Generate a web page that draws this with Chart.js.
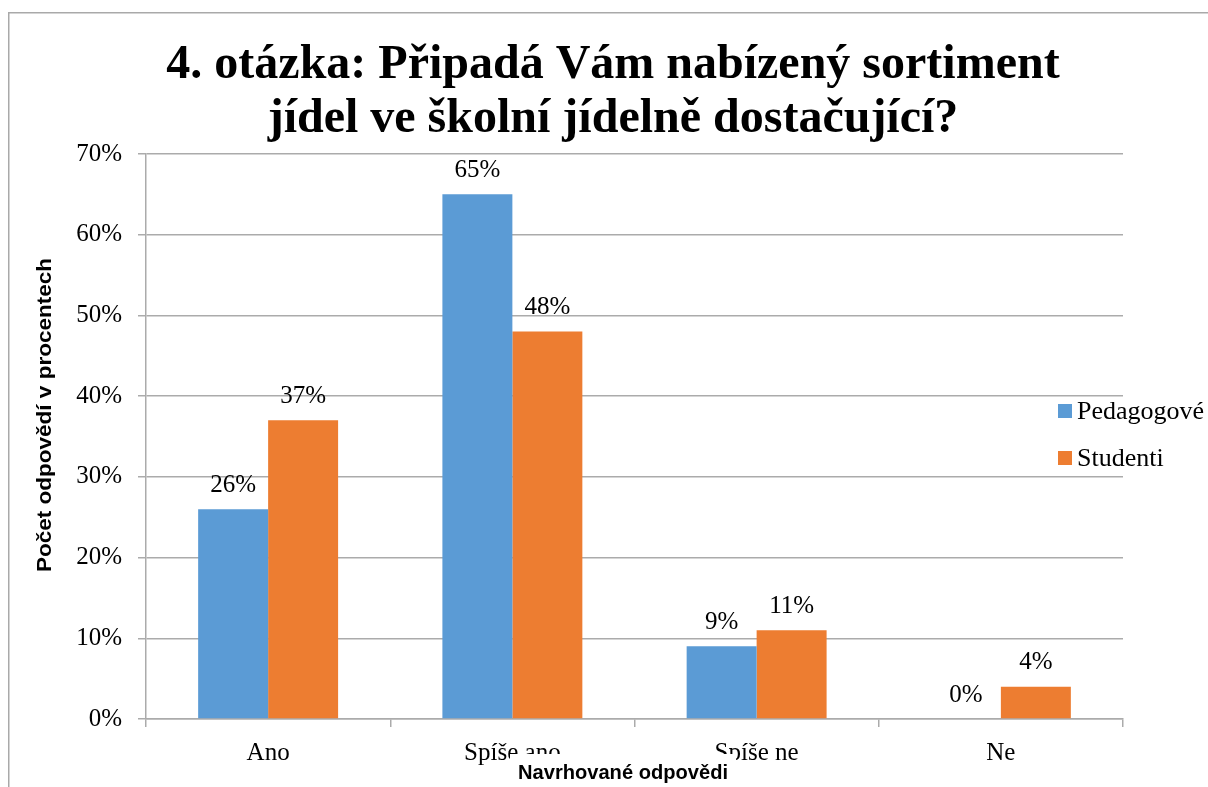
<!DOCTYPE html>
<html>
<head>
<meta charset="utf-8">
<script src="https://cdn.jsdelivr.net/npm/chart.js@4"></script>
<style>
  html, body { margin: 0; padding: 0; background: #fff; }
  #c { display: block; }
</style>
</head>
<body>
<canvas id="c" width="1208" height="787"></canvas>
<script>
const categories = ["Ano", "Spíše ano", "Spíše ne", "Ne"];
const pedagogove = [26, 65, 9, 0];
const studenti = [37, 48, 11, 4];
const seriesNames = ["Pedagogové", "Studenti"];
const titleLines = ["4. otázka: Připadá Vám nabízený sortiment", "jídel ve školní jídelně dostačující?"];
const yAxisTitle = "Počet odpovědí v procentech";
const xAxisTitle = "Navrhované odpovědi";

const BLUE = "#5B9BD5", ORANGE = "#ED7D31", GRID = "#ABABAB";
const SERIF = "'Liberation Serif', 'Times New Roman', serif";
const SANS = "'Liberation Sans', Arial, sans-serif";

const decor = {
  id: "decor",
  beforeDraw(chart) {
    const ctx = chart.ctx;
    ctx.save();
    ctx.fillStyle = "#fff";
    ctx.fillRect(0, 0, chart.width, chart.height);
    ctx.strokeStyle = "#A9A9A9";
    ctx.lineWidth = 1.5;
    ctx.strokeRect(8.75, 12.75, 1300, 900);
    ctx.restore();
  },
  afterDatasetsDraw(chart) {
    const ctx = chart.ctx;
    ctx.save();
    ctx.fillStyle = "#000";
    ctx.font = "25px " + SERIF;
    ctx.textAlign = "center";
    ctx.textBaseline = "middle";
    chart.data.datasets.forEach((ds, i) => {
      chart.getDatasetMeta(i).data.forEach((el, j) => {
        ctx.fillText(ds.data[j] + "%", el.x, el.y - 24);
      });
    });
    ctx.restore();
  },
  afterDraw(chart) {
    const ctx = chart.ctx;
    ctx.save();
    // title
    ctx.fillStyle = "#000";
    ctx.font = "bold 48px " + SERIF;
    ctx.textAlign = "center";
    ctx.textBaseline = "alphabetic";
    ctx.fillText(titleLines[0], 613, 78);
    ctx.fillText(titleLines[1], 613, 132);
    // y axis title
    ctx.save();
    ctx.font = "bold 20px " + SANS;
    ctx.translate(45, 415);
    ctx.rotate(-Math.PI / 2);
    const wy = ctx.measureText(yAxisTitle).width;
    ctx.scale(314 / wy, 1);
    ctx.textAlign = "center";
    ctx.textBaseline = "middle";
    ctx.fillText(yAxisTitle, 0, 0);
    ctx.restore();
    // x axis title (with white box that covers tick labels beneath)
    ctx.save();
    ctx.fillStyle = "#fff";
    ctx.fillRect(510, 754, 226, 40);
    ctx.fillStyle = "#000";
    ctx.font = "bold 21px " + SANS;
    ctx.translate(623, 773);
    const wx = ctx.measureText(xAxisTitle).width;
    ctx.scale(210 / wx, 1);
    ctx.textAlign = "center";
    ctx.textBaseline = "middle";
    ctx.fillText(xAxisTitle, 0, 0);
    ctx.restore();
    // legend
    ctx.font = "26px " + SERIF;
    ctx.textAlign = "left";
    ctx.textBaseline = "middle";
    chart.data.datasets.forEach((ds, i) => {
      const cy = 411 + i * 47;
      ctx.fillStyle = ds.backgroundColor;
      ctx.fillRect(1058, cy - 7, 14, 14);
      ctx.fillStyle = "#000";
      ctx.fillText(ds.label, 1077, cy + 1);
    });
    ctx.restore();
  }
};

new Chart(document.getElementById("c"), {
  type: "bar",
  data: {
    labels: categories,
    datasets: [
      { label: seriesNames[0], data: pedagogove, backgroundColor: BLUE, categoryPercentage: 0.573, barPercentage: 1.0 },
      { label: seriesNames[1], data: studenti, backgroundColor: ORANGE, categoryPercentage: 0.573, barPercentage: 1.0 }
    ]
  },
  options: {
    responsive: false,
    devicePixelRatio: 1,
    animation: false,
    layout: { padding: { left: 0, top: 154, right: 85, bottom: 0 } },
    plugins: { legend: { display: false }, title: { display: false }, tooltip: { enabled: false } },
    scales: {
      x: {
        offset: true,
        grid: { display: true, drawOnChartArea: false, drawTicks: true, tickLength: 8, color: GRID, lineWidth: 1.5, offset: true },
        border: { display: true, color: GRID, width: 1.5 },
        ticks: { color: "#000", font: { family: SERIF, size: 25 }, padding: 11, maxRotation: 0 },
        afterFit(scale) { scale.height = 68; }
      },
      y: {
        min: 0, max: 70,
        grid: { color: GRID, lineWidth: 1.5, tickLength: 8 },
        border: { display: true, color: GRID, width: 1.5 },
        ticks: { stepSize: 10, color: "#000", font: { family: SERIF, size: 25 }, padding: 16, callback: v => v + "%" },
        afterFit(scale) { scale.width = 146; }
      }
    }
  },
  plugins: [decor]
});
</script>
</body>
</html>
